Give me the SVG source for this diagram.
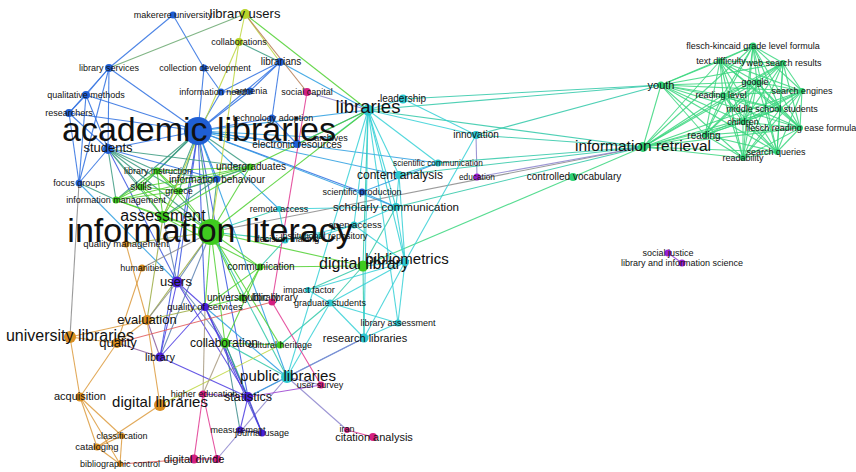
<svg xmlns="http://www.w3.org/2000/svg" width="856" height="472" viewBox="0 0 856 472">
<style>
text{font-family:"Liberation Sans",Arial,sans-serif;fill:#111;text-anchor:middle}
.f8{font-size:8.3px}.f9{font-size:9px}.f95{font-size:9.5px}.f10{font-size:10px}.f11{font-size:11px}.f115{font-size:11.5px}.f12{font-size:12px}.f125{font-size:12.5px}.f13{font-size:13px}.f15{font-size:15px}.f155{font-size:15.5px}.f16{font-size:16px}.f18{font-size:18.5px}.f34{font-size:34px}
#edges line{stroke-width:1.1;stroke-opacity:.85;fill:none}
.b{stroke:#2d6ee0}.t{stroke:#35d0d6}.g{stroke:#4fd030}.r{stroke:#3ad67e}.tg{stroke:#30c8a8}.bg{stroke:#3a9a80}.bt{stroke:#2a9ee0}.o{stroke:#dc9a3c}.i{stroke:#4a3ae0}.m{stroke:#e0358f}.y{stroke:#bcd63c}.gr{stroke:#8a8a8a}.pu{stroke:#8c84cc}.rd{stroke:#e05a5a}.br{stroke:#b57a50}.ol{stroke:#9aaa40}.bi{stroke:#3a55e0}.gi{stroke:#5a80b0}.tn{stroke:#a89a80}.vi{stroke:#9a40d0}.lg{stroke:#6aa870}.dt{stroke:#3a8a8a}.pb{stroke:#8a5a9a}
.nb{fill:#1f5fd4}.nt{fill:#2cc6cf}.ng{fill:#3fcb1f}.nr{fill:#2fd174}.no{fill:#d98d1f}.ni{fill:#4a1fd6}.nm{fill:#d42082}.nv{fill:#9a1fd2}.ny{fill:#b8d42a}
</style>
<rect width="856" height="472" fill="#fff"/>
<g id="edges">
<line class="b" x1="173" y1="15" x2="109" y2="68"/>
<line class="b" x1="173" y1="15" x2="204" y2="68"/>
<line class="b" x1="109" y1="68" x2="86" y2="95"/>
<line class="b" x1="109" y1="68" x2="69" y2="113"/>
<line class="b" x1="109" y1="68" x2="108" y2="149"/>
<line class="b" x1="109" y1="68" x2="198" y2="131"/>
<line class="b" x1="109" y1="68" x2="79" y2="183"/>
<line class="lg" x1="109" y1="68" x2="245" y2="14"/>
<line class="b" x1="86" y1="95" x2="69" y2="113"/>
<line class="b" x1="86" y1="95" x2="108" y2="149"/>
<line class="b" x1="86" y1="95" x2="79" y2="183"/>
<line class="b" x1="86" y1="95" x2="198" y2="131"/>
<line class="b" x1="69" y1="113" x2="108" y2="149"/>
<line class="b" x1="69" y1="113" x2="79" y2="183"/>
<line class="b" x1="69" y1="113" x2="198" y2="131"/>
<line class="b" x1="108" y1="149" x2="79" y2="183"/>
<line class="b" x1="108" y1="149" x2="198" y2="131"/>
<line class="b" x1="204" y1="68" x2="198" y2="131"/>
<line class="b" x1="204" y1="68" x2="221" y2="92"/>
<line class="b" x1="221" y1="92" x2="198" y2="131"/>
<line class="b" x1="221" y1="92" x2="250" y2="91"/>
<line class="b" x1="221" y1="92" x2="280" y2="62"/>
<line class="b" x1="250" y1="91" x2="280" y2="62"/>
<line class="b" x1="250" y1="91" x2="198" y2="131"/>
<line class="b" x1="280" y1="62" x2="198" y2="131"/>
<line class="bt" x1="280" y1="62" x2="368" y2="110"/>
<line class="b" x1="280" y1="62" x2="272" y2="118"/>
<line class="b" x1="272" y1="118" x2="198" y2="131"/>
<line class="b" x1="272" y1="118" x2="297" y2="144"/>
<line class="b" x1="297" y1="144" x2="198" y2="131"/>
<line class="bt" x1="297" y1="144" x2="368" y2="110"/>
<line class="bt" x1="331" y1="138" x2="198" y2="131"/>
<line class="t" x1="331" y1="138" x2="368" y2="110"/>
<line class="b" x1="198" y1="131" x2="217" y2="179"/>
<line class="bg" x1="198" y1="131" x2="250" y2="167"/>
<line class="bg" x1="198" y1="131" x2="157" y2="171"/>
<line class="bg" x1="198" y1="131" x2="141" y2="187"/>
<line class="bg" x1="198" y1="131" x2="179" y2="191"/>
<line class="bg" x1="198" y1="131" x2="116" y2="200"/>
<line class="bg" x1="198" y1="131" x2="163" y2="217"/>
<line class="bg" x1="198" y1="131" x2="211" y2="232"/>
<line class="bt" x1="198" y1="131" x2="279" y2="209"/>
<line class="b" x1="198" y1="131" x2="362" y2="192"/>
<line class="bt" x1="198" y1="131" x2="396" y2="207"/>
<line class="bt" x1="198" y1="131" x2="399" y2="175"/>
<line class="bt" x1="198" y1="131" x2="368" y2="110"/>
<line class="bi" x1="198" y1="131" x2="177" y2="282"/>
<line class="bi" x1="198" y1="131" x2="160" y2="357"/>
<line class="bi" x1="198" y1="131" x2="205" y2="307"/>
<line class="bt" x1="198" y1="131" x2="287" y2="377"/>
<line class="bt" x1="198" y1="131" x2="438" y2="163"/>
<line class="bi" x1="198" y1="131" x2="248" y2="397"/>
<line class="bg" x1="108" y1="149" x2="157" y2="171"/>
<line class="bg" x1="108" y1="149" x2="141" y2="187"/>
<line class="bg" x1="108" y1="149" x2="179" y2="191"/>
<line class="bg" x1="108" y1="149" x2="116" y2="200"/>
<line class="bg" x1="108" y1="149" x2="163" y2="217"/>
<line class="bg" x1="108" y1="149" x2="211" y2="232"/>
<line class="b" x1="108" y1="149" x2="217" y2="179"/>
<line class="bg" x1="108" y1="149" x2="250" y2="167"/>
<line class="bi" x1="108" y1="149" x2="177" y2="282"/>
<line class="bt" x1="79" y1="183" x2="177" y2="282"/>
<line class="gr" x1="79" y1="183" x2="70" y2="337"/>
<line class="bg" x1="79" y1="183" x2="116" y2="200"/>
<line class="g" x1="211" y1="232" x2="163" y2="217"/>
<line class="g" x1="211" y1="232" x2="157" y2="171"/>
<line class="g" x1="211" y1="232" x2="141" y2="187"/>
<line class="g" x1="211" y1="232" x2="179" y2="191"/>
<line class="g" x1="211" y1="232" x2="116" y2="200"/>
<line class="g" x1="211" y1="232" x2="250" y2="167"/>
<line class="bg" x1="211" y1="232" x2="217" y2="179"/>
<line class="y" x1="211" y1="232" x2="239" y2="42"/>
<line class="g" x1="211" y1="232" x2="260" y2="267"/>
<line class="g" x1="211" y1="232" x2="242" y2="298"/>
<line class="gi" x1="211" y1="232" x2="177" y2="282"/>
<line class="g" x1="211" y1="232" x2="205" y2="307"/>
<line class="g" x1="211" y1="232" x2="225" y2="343"/>
<line class="g" x1="211" y1="232" x2="363" y2="266"/>
<line class="g" x1="211" y1="232" x2="368" y2="110"/>
<line class="ol" x1="211" y1="232" x2="126" y2="244"/>
<line class="ol" x1="211" y1="232" x2="147" y2="320"/>
<line class="tg" x1="211" y1="232" x2="279" y2="209"/>
<line class="tg" x1="211" y1="232" x2="285" y2="240"/>
<line class="g" x1="211" y1="232" x2="280" y2="345"/>
<line class="tg" x1="211" y1="232" x2="287" y2="377"/>
<line class="gr" x1="211" y1="232" x2="142" y2="268"/>
<line class="gi" x1="211" y1="232" x2="160" y2="357"/>
<line class="gr" x1="211" y1="232" x2="643" y2="147"/>
<line class="g" x1="163" y1="217" x2="157" y2="171"/>
<line class="g" x1="163" y1="217" x2="141" y2="187"/>
<line class="g" x1="163" y1="217" x2="179" y2="191"/>
<line class="g" x1="163" y1="217" x2="116" y2="200"/>
<line class="g" x1="163" y1="217" x2="250" y2="167"/>
<line class="bg" x1="163" y1="217" x2="217" y2="179"/>
<line class="gi" x1="163" y1="217" x2="177" y2="282"/>
<line class="ol" x1="163" y1="217" x2="147" y2="320"/>
<line class="g" x1="163" y1="217" x2="260" y2="267"/>
<line class="g" x1="157" y1="171" x2="141" y2="187"/>
<line class="g" x1="157" y1="171" x2="179" y2="191"/>
<line class="g" x1="157" y1="171" x2="116" y2="200"/>
<line class="bg" x1="157" y1="171" x2="217" y2="179"/>
<line class="g" x1="157" y1="171" x2="250" y2="167"/>
<line class="g" x1="141" y1="187" x2="179" y2="191"/>
<line class="g" x1="141" y1="187" x2="116" y2="200"/>
<line class="g" x1="141" y1="187" x2="250" y2="167"/>
<line class="g" x1="179" y1="191" x2="116" y2="200"/>
<line class="g" x1="179" y1="191" x2="250" y2="167"/>
<line class="bg" x1="179" y1="191" x2="217" y2="179"/>
<line class="bg" x1="217" y1="179" x2="250" y2="167"/>
<line class="g" x1="116" y1="200" x2="250" y2="167"/>
<line class="g" x1="250" y1="167" x2="368" y2="110"/>
<line class="y" x1="239" y1="42" x2="245" y2="14"/>
<line class="bg" x1="239" y1="42" x2="280" y2="62"/>
<line class="y" x1="239" y1="42" x2="163" y2="217"/>
<line class="g" x1="245" y1="14" x2="368" y2="110"/>
<line class="y" x1="245" y1="14" x2="280" y2="62"/>
<line class="br" x1="245" y1="14" x2="307" y2="92"/>
<line class="g" x1="260" y1="267" x2="225" y2="343"/>
<line class="g" x1="260" y1="267" x2="363" y2="266"/>
<line class="g" x1="260" y1="267" x2="242" y2="298"/>
<line class="g" x1="260" y1="267" x2="205" y2="307"/>
<line class="tg" x1="260" y1="267" x2="285" y2="240"/>
<line class="tg" x1="225" y1="343" x2="248" y2="397"/>
<line class="dt" x1="225" y1="343" x2="240" y2="430"/>
<line class="dt" x1="225" y1="343" x2="262" y2="433"/>
<line class="gi" x1="225" y1="343" x2="205" y2="307"/>
<line class="gi" x1="225" y1="343" x2="177" y2="282"/>
<line class="g" x1="225" y1="343" x2="280" y2="345"/>
<line class="tg" x1="225" y1="343" x2="287" y2="377"/>
<line class="tg" x1="280" y1="345" x2="330" y2="303"/>
<line class="y" x1="160" y1="405" x2="280" y2="345"/>
<line class="g" x1="242" y1="298" x2="205" y2="307"/>
<line class="t" x1="363" y1="266" x2="405" y2="262"/>
<line class="tg" x1="363" y1="266" x2="396" y2="207"/>
<line class="tg" x1="363" y1="266" x2="368" y2="110"/>
<line class="r" x1="363" y1="266" x2="573" y2="177"/>
<line class="tg" x1="363" y1="266" x2="364" y2="338"/>
<line class="tg" x1="363" y1="266" x2="330" y2="303"/>
<line class="r" x1="573" y1="177" x2="643" y2="147"/>
<line class="t" x1="368" y1="110" x2="403" y2="99"/>
<line class="t" x1="368" y1="110" x2="476" y2="135"/>
<line class="t" x1="368" y1="110" x2="396" y2="207"/>
<line class="t" x1="368" y1="110" x2="399" y2="175"/>
<line class="t" x1="368" y1="110" x2="405" y2="262"/>
<line class="t" x1="368" y1="110" x2="364" y2="338"/>
<line class="t" x1="368" y1="110" x2="398" y2="323"/>
<line class="t" x1="368" y1="110" x2="287" y2="377"/>
<line class="t" x1="368" y1="110" x2="354" y2="225"/>
<line class="t" x1="368" y1="110" x2="438" y2="163"/>
<line class="pu" x1="368" y1="110" x2="307" y2="92"/>
<line class="tg" x1="368" y1="110" x2="661" y2="85"/>
<line class="tg" x1="368" y1="110" x2="643" y2="147"/>
<line class="t" x1="403" y1="99" x2="476" y2="135"/>
<line class="tg" x1="403" y1="99" x2="661" y2="85"/>
<line class="pu" x1="476" y1="135" x2="477" y2="177"/>
<line class="t" x1="476" y1="135" x2="405" y2="262"/>
<line class="tg" x1="476" y1="135" x2="643" y2="147"/>
<line class="tg" x1="476" y1="135" x2="661" y2="85"/>
<line class="t" x1="438" y1="163" x2="399" y2="175"/>
<line class="tg" x1="438" y1="163" x2="643" y2="147"/>
<line class="bt" x1="438" y1="163" x2="362" y2="192"/>
<line class="t" x1="399" y1="175" x2="396" y2="207"/>
<line class="t" x1="399" y1="175" x2="405" y2="262"/>
<line class="tg" x1="399" y1="175" x2="643" y2="147"/>
<line class="pu" x1="477" y1="177" x2="643" y2="147"/>
<line class="tg" x1="396" y1="207" x2="643" y2="147"/>
<line class="t" x1="396" y1="207" x2="354" y2="225"/>
<line class="t" x1="396" y1="207" x2="405" y2="262"/>
<line class="bt" x1="396" y1="207" x2="362" y2="192"/>
<line class="t" x1="396" y1="207" x2="279" y2="209"/>
<line class="t" x1="354" y1="225" x2="320" y2="236"/>
<line class="t" x1="354" y1="225" x2="285" y2="240"/>
<line class="t" x1="354" y1="225" x2="405" y2="262"/>
<line class="t" x1="279" y1="209" x2="285" y2="240"/>
<line class="t" x1="285" y1="240" x2="320" y2="236"/>
<line class="t" x1="405" y1="262" x2="364" y2="338"/>
<line class="t" x1="405" y1="262" x2="398" y2="323"/>
<line class="t" x1="405" y1="262" x2="330" y2="303"/>
<line class="t" x1="405" y1="262" x2="308" y2="290"/>
<line class="t" x1="308" y1="290" x2="330" y2="303"/>
<line class="tg" x1="308" y1="290" x2="363" y2="266"/>
<line class="t" x1="330" y1="303" x2="364" y2="338"/>
<line class="t" x1="330" y1="303" x2="398" y2="323"/>
<line class="t" x1="330" y1="303" x2="287" y2="377"/>
<line class="t" x1="398" y1="323" x2="364" y2="338"/>
<line class="bt" x1="364" y1="338" x2="287" y2="377"/>
<line class="pu" x1="364" y1="338" x2="248" y2="397"/>
<line class="pu" x1="287" y1="377" x2="321" y2="385"/>
<line class="bt" x1="287" y1="377" x2="248" y2="397"/>
<line class="bt" x1="287" y1="377" x2="205" y2="307"/>
<line class="pu" x1="287" y1="377" x2="347" y2="430"/>
<line class="pu" x1="287" y1="377" x2="217" y2="459"/>
<line class="i" x1="177" y1="282" x2="205" y2="307"/>
<line class="i" x1="177" y1="282" x2="160" y2="357"/>
<line class="i" x1="177" y1="282" x2="248" y2="397"/>
<line class="gr" x1="177" y1="282" x2="147" y2="320"/>
<line class="i" x1="205" y1="307" x2="160" y2="357"/>
<line class="tn" x1="205" y1="307" x2="203" y2="394"/>
<line class="i" x1="205" y1="307" x2="248" y2="397"/>
<line class="i" x1="205" y1="307" x2="262" y2="433"/>
<line class="ol" x1="205" y1="307" x2="147" y2="320"/>
<line class="i" x1="160" y1="357" x2="248" y2="397"/>
<line class="pb" x1="160" y1="357" x2="117" y2="343"/>
<line class="pb" x1="160" y1="357" x2="147" y2="320"/>
<line class="i" x1="248" y1="397" x2="240" y2="430"/>
<line class="i" x1="248" y1="397" x2="262" y2="433"/>
<line class="vi" x1="248" y1="397" x2="203" y2="394"/>
<line class="vi" x1="248" y1="397" x2="321" y2="385"/>
<line class="i" x1="240" y1="430" x2="262" y2="433"/>
<line class="m" x1="203" y1="394" x2="194" y2="459"/>
<line class="m" x1="203" y1="394" x2="217" y2="459"/>
<line class="tn" x1="203" y1="394" x2="225" y2="343"/>
<line class="m" x1="194" y1="459" x2="217" y2="459"/>
<line class="rd" x1="120" y1="464" x2="194" y2="459"/>
<line class="m" x1="347" y1="430" x2="373" y2="437"/>
<line class="m" x1="272" y1="302" x2="321" y2="385"/>
<line class="m" x1="272" y1="302" x2="307" y2="92"/>
<line class="rd" x1="272" y1="302" x2="117" y2="343"/>
<line class="o" x1="70" y1="337" x2="147" y2="320"/>
<line class="o" x1="70" y1="337" x2="117" y2="343"/>
<line class="o" x1="70" y1="337" x2="80" y2="397"/>
<line class="o" x1="147" y1="320" x2="117" y2="343"/>
<line class="o" x1="147" y1="320" x2="126" y2="244"/>
<line class="o" x1="147" y1="320" x2="160" y2="405"/>
<line class="o" x1="142" y1="268" x2="117" y2="343"/>
<line class="o" x1="117" y1="343" x2="80" y2="397"/>
<line class="o" x1="80" y1="397" x2="97" y2="447"/>
<line class="o" x1="80" y1="397" x2="122" y2="436"/>
<line class="o" x1="80" y1="397" x2="120" y2="464"/>
<line class="o" x1="160" y1="405" x2="97" y2="447"/>
<line class="o" x1="97" y1="447" x2="122" y2="436"/>
<line class="o" x1="97" y1="447" x2="120" y2="464"/>
<line class="o" x1="122" y1="436" x2="120" y2="464"/>
<line class="vi" x1="668" y1="253" x2="682" y2="263"/>
<line class="r" x1="753" y1="46" x2="720" y2="61"/><line class="r" x1="753" y1="46" x2="783" y2="63"/><line class="r" x1="753" y1="46" x2="757" y2="82"/><line class="r" x1="753" y1="46" x2="802" y2="91"/><line class="r" x1="753" y1="46" x2="723" y2="95"/><line class="r" x1="753" y1="46" x2="780" y2="109"/><line class="r" x1="753" y1="46" x2="743" y2="122"/><line class="r" x1="753" y1="46" x2="800" y2="128"/><line class="r" x1="753" y1="46" x2="705" y2="135"/><line class="r" x1="753" y1="46" x2="777" y2="152"/><line class="r" x1="753" y1="46" x2="743" y2="158"/>
<line class="r" x1="720" y1="61" x2="783" y2="63"/><line class="r" x1="720" y1="61" x2="757" y2="82"/><line class="r" x1="720" y1="61" x2="802" y2="91"/><line class="r" x1="720" y1="61" x2="723" y2="95"/><line class="r" x1="720" y1="61" x2="780" y2="109"/><line class="r" x1="720" y1="61" x2="743" y2="122"/><line class="r" x1="720" y1="61" x2="800" y2="128"/><line class="r" x1="720" y1="61" x2="705" y2="135"/><line class="r" x1="720" y1="61" x2="777" y2="152"/><line class="r" x1="720" y1="61" x2="743" y2="158"/>
<line class="r" x1="783" y1="63" x2="757" y2="82"/><line class="r" x1="783" y1="63" x2="802" y2="91"/><line class="r" x1="783" y1="63" x2="723" y2="95"/><line class="r" x1="783" y1="63" x2="780" y2="109"/><line class="r" x1="783" y1="63" x2="743" y2="122"/><line class="r" x1="783" y1="63" x2="800" y2="128"/><line class="r" x1="783" y1="63" x2="705" y2="135"/><line class="r" x1="783" y1="63" x2="777" y2="152"/><line class="r" x1="783" y1="63" x2="743" y2="158"/>
<line class="r" x1="757" y1="82" x2="802" y2="91"/><line class="r" x1="757" y1="82" x2="723" y2="95"/><line class="r" x1="757" y1="82" x2="780" y2="109"/><line class="r" x1="757" y1="82" x2="743" y2="122"/><line class="r" x1="757" y1="82" x2="800" y2="128"/><line class="r" x1="757" y1="82" x2="705" y2="135"/><line class="r" x1="757" y1="82" x2="777" y2="152"/><line class="r" x1="757" y1="82" x2="743" y2="158"/>
<line class="r" x1="802" y1="91" x2="723" y2="95"/><line class="r" x1="802" y1="91" x2="780" y2="109"/><line class="r" x1="802" y1="91" x2="743" y2="122"/><line class="r" x1="802" y1="91" x2="800" y2="128"/><line class="r" x1="802" y1="91" x2="705" y2="135"/><line class="r" x1="802" y1="91" x2="777" y2="152"/><line class="r" x1="802" y1="91" x2="743" y2="158"/>
<line class="r" x1="723" y1="95" x2="780" y2="109"/><line class="r" x1="723" y1="95" x2="743" y2="122"/><line class="r" x1="723" y1="95" x2="800" y2="128"/><line class="r" x1="723" y1="95" x2="705" y2="135"/><line class="r" x1="723" y1="95" x2="777" y2="152"/><line class="r" x1="723" y1="95" x2="743" y2="158"/>
<line class="r" x1="780" y1="109" x2="743" y2="122"/><line class="r" x1="780" y1="109" x2="800" y2="128"/><line class="r" x1="780" y1="109" x2="705" y2="135"/><line class="r" x1="780" y1="109" x2="777" y2="152"/><line class="r" x1="780" y1="109" x2="743" y2="158"/>
<line class="r" x1="743" y1="122" x2="800" y2="128"/><line class="r" x1="743" y1="122" x2="705" y2="135"/><line class="r" x1="743" y1="122" x2="777" y2="152"/><line class="r" x1="743" y1="122" x2="743" y2="158"/>
<line class="r" x1="800" y1="128" x2="705" y2="135"/><line class="r" x1="800" y1="128" x2="777" y2="152"/><line class="r" x1="800" y1="128" x2="743" y2="158"/>
<line class="r" x1="705" y1="135" x2="777" y2="152"/><line class="r" x1="705" y1="135" x2="743" y2="158"/><line class="r" x1="777" y1="152" x2="743" y2="158"/>
<line class="r" x1="661" y1="85" x2="753" y2="46"/><line class="r" x1="661" y1="85" x2="720" y2="61"/><line class="r" x1="661" y1="85" x2="783" y2="63"/><line class="r" x1="661" y1="85" x2="757" y2="82"/><line class="r" x1="661" y1="85" x2="802" y2="91"/><line class="r" x1="661" y1="85" x2="723" y2="95"/><line class="r" x1="661" y1="85" x2="780" y2="109"/><line class="r" x1="661" y1="85" x2="743" y2="122"/><line class="r" x1="661" y1="85" x2="800" y2="128"/><line class="r" x1="661" y1="85" x2="705" y2="135"/><line class="r" x1="661" y1="85" x2="777" y2="152"/><line class="r" x1="661" y1="85" x2="743" y2="158"/>
<line class="r" x1="643" y1="147" x2="753" y2="46"/><line class="r" x1="643" y1="147" x2="720" y2="61"/><line class="r" x1="643" y1="147" x2="783" y2="63"/><line class="r" x1="643" y1="147" x2="757" y2="82"/><line class="r" x1="643" y1="147" x2="802" y2="91"/><line class="r" x1="643" y1="147" x2="723" y2="95"/><line class="r" x1="643" y1="147" x2="780" y2="109"/><line class="r" x1="643" y1="147" x2="743" y2="122"/><line class="r" x1="643" y1="147" x2="800" y2="128"/><line class="r" x1="643" y1="147" x2="705" y2="135"/><line class="r" x1="643" y1="147" x2="777" y2="152"/><line class="r" x1="643" y1="147" x2="743" y2="158"/>
<line class="r" x1="661" y1="85" x2="643" y2="147"/>
</g>
<g id="n-makerere-university"><circle class="nb" cx="173" cy="15" r="3.5"/><text class="f9" x="173" y="18">makerere university</text></g>
<g id="n-library-services"><circle class="nb" cx="109" cy="68" r="4"/><text class="f9" x="109" y="71">library services</text></g>
<g id="n-collection-development"><circle class="nb" cx="204" cy="68" r="3.5"/><text class="f9" x="205" y="71">collection development</text></g>
<g id="n-qualitative-methods"><circle class="nb" cx="86" cy="95" r="4"/><text class="f9" x="86" y="98">qualitative methods</text></g>
<g id="n-researchers"><circle class="nb" cx="69" cy="113" r="4"/><text class="f9" x="69" y="116">researchers</text></g>
<g id="n-collaborations"><circle class="ny" cx="239" cy="42" r="4"/><text class="f9" x="239" y="45">collaborations</text></g>
<g id="n-librarians"><circle class="nb" cx="280" cy="62" r="4"/><text class="f10" x="281" y="65">librarians</text></g>
<g id="n-information-needs"><circle class="nb" cx="221" cy="92" r="3.5"/><text class="f9" x="215" y="95">information needs</text></g>
<g id="n-armenia"><circle class="nb" cx="250" cy="91" r="3.5"/><text class="f9" x="251" y="94">armenia</text></g>
<g id="n-social-capital"><circle class="nm" cx="307" cy="92" r="4"/><text class="f9" x="307" y="95">social capital</text></g>
<g id="n-leadership"><circle class="nt" cx="403" cy="99" r="4.5"/><text class="f10" x="403" y="102">leadership</text></g>
<g id="n-technology-adoption"><circle class="nb" cx="272" cy="118" r="3.5"/><text class="f9" x="273" y="121">technology adoption</text></g>
<g id="n-archives"><circle class="nt" cx="331" cy="138" r="3"/><text class="f9" x="331" y="141">archives</text></g>
<g id="n-electronic-resources"><circle class="nb" cx="297" cy="144" r="4"/><text class="f10" x="297" y="148">electronic resources</text></g>
<g id="n-innovation"><circle class="nt" cx="476" cy="135" r="4"/><text class="f10" x="476" y="138">innovation</text></g>
<g id="n-scientific-communication"><circle class="nt" cx="438" cy="163" r="3.5"/><text class="f8" x="438" y="166">scientific communication</text></g>
<g id="n-education"><circle class="nv" cx="477" cy="177" r="3.5"/><text class="f8" x="477" y="180">education</text></g>
<g id="n-controlled-vocabulary"><circle class="nr" cx="573" cy="177" r="4"/><text class="f10" x="574" y="180">controlled vocabulary</text></g>
<g id="n-content-analysis"><circle class="nt" cx="399" cy="175" r="4"/><text class="f12" x="400" y="179">content analysis</text></g>
<g id="n-youth"><circle class="nr" cx="661" cy="85" r="3.5"/><text class="f11" x="661" y="89">youth</text></g>
<g id="n-flesch-kincaid"><circle class="nr" cx="753" cy="46" r="3.5"/><text class="f9" x="753" y="49">flesch-kincaid grade level formula</text></g>
<g id="n-text-difficulty"><circle class="nr" cx="720" cy="61" r="3"/><text class="f9" x="721" y="64">text difficulty</text></g>
<g id="n-web-search-results"><circle class="nr" cx="783" cy="63" r="3"/><text class="f9" x="784" y="66">web search results</text></g>
<g id="n-google"><circle class="nr" cx="757" cy="82" r="3"/><text class="f9" x="755" y="85">google</text></g>
<g id="n-search-engines"><circle class="nr" cx="802" cy="91" r="3"/><text class="f9" x="802" y="94">search engines</text></g>
<g id="n-reading-level"><circle class="nr" cx="723" cy="95" r="3"/><text class="f9" x="721" y="98">reading level</text></g>
<g id="n-middle-school-students"><circle class="nr" cx="780" cy="109" r="3"/><text class="f9" x="772" y="112">middle school students</text></g>
<g id="n-children"><circle class="nr" cx="743" cy="122" r="3"/><text class="f9" x="743" y="125">children</text></g>
<g id="n-flesch-reading-ease"><circle class="nr" cx="800" cy="128" r="3"/><text class="f9" x="801" y="131">flesch reading ease formula</text></g>
<g id="n-reading"><circle class="nr" cx="705" cy="135" r="3"/><text class="f10" x="704" y="139">reading</text></g>
<g id="n-search-queries"><circle class="nr" cx="777" cy="152" r="3"/><text class="f9" x="776" y="155">search queries</text></g>
<g id="n-readability"><circle class="nr" cx="743" cy="158" r="3"/><text class="f9" x="743" y="161">readability</text></g>
<g id="n-social-justice"><circle class="nv" cx="668" cy="253" r="3.5"/><text class="f9" x="668" y="256">social justice</text></g>
<g id="n-library-and-information-science"><circle class="nv" cx="682" cy="263" r="3.5"/><text class="f9" x="682" y="266">library and information science</text></g>
<g id="n-library-instruction"><circle class="ng" cx="157" cy="171" r="3.5"/><text class="f9" x="158" y="174">library instruction</text></g>
<g id="n-skills"><circle class="ng" cx="141" cy="187" r="3.5"/><text class="f10" x="141" y="190">skills</text></g>
<g id="n-greece"><circle class="ng" cx="179" cy="191" r="3.5"/><text class="f9" x="179" y="194">greece</text></g>
<g id="n-information-behaviour"><circle class="nb" cx="217" cy="179" r="3.5"/><text class="f10" x="217" y="183">information behaviour</text></g>
<g id="n-undergraduates"><circle class="ng" cx="250" cy="167" r="3.5"/><text class="f10" x="251" y="170">undergraduates</text></g>
<g id="n-information-management"><circle class="ng" cx="116" cy="200" r="3.5"/><text class="f9" x="116" y="203">information management</text></g>
<g id="n-focus-groups"><circle class="nb" cx="79" cy="183" r="3.5"/><text class="f9" x="79" y="186">focus groups</text></g>
<g id="n-quality-management"><circle class="no" cx="126" cy="244" r="3.5"/><text class="f95" x="126" y="247">quality management</text></g>
<g id="n-humanities"><circle class="no" cx="142" cy="268" r="3.5"/><text class="f9" x="142" y="271">humanities</text></g>
<g id="n-remote-access"><circle class="nt" cx="279" cy="209" r="3"/><text class="f9" x="279" y="212">remote access</text></g>
<g id="n-scientific-production"><circle class="nb" cx="362" cy="192" r="3.5"/><text class="f9" x="362" y="195">scientific production</text></g>
<g id="n-scholarly-communication"><circle class="nt" cx="396" cy="207" r="4"/><text class="f115" x="396" y="211">scholarly communication</text></g>
<g id="n-open-access"><circle class="nt" cx="354" cy="225" r="3.5"/><text class="f95" x="355" y="228">open access</text></g>
<g id="n-decision-making"><circle class="nt" cx="285" cy="240" r="3.5"/><text class="f9" x="287" y="242">decision making</text></g>
<g id="n-institutional-repository"><circle class="nt" cx="320" cy="236" r="3"/><text class="f9" x="324" y="239">institutional repository</text></g>
<g id="n-communication"><circle class="ng" cx="260" cy="267" r="3.5"/><text class="f10" x="261" y="270">communication</text></g>
<g id="n-impact-factor"><circle class="nt" cx="308" cy="290" r="3"/><text class="f9" x="309" y="293">impact factor</text></g>
<g id="n-graduate-students"><circle class="nt" cx="330" cy="303" r="3.5"/><text class="f9" x="330" y="306">graduate students</text></g>
<g id="n-university-library"><circle class="ng" cx="242" cy="298" r="3.5"/><text class="f10" x="243" y="301">university library</text></g>
<g id="n-public-library"><circle class="nm" cx="272" cy="302" r="3.5"/><text class="f10" x="270" y="301">public library</text></g>
<g id="n-quality-of-services"><circle class="ni" cx="205" cy="307" r="4"/><text class="f95" x="205" y="310">quality of services</text></g>
<g id="n-library-assessment"><circle class="nt" cx="398" cy="323" r="3.5"/><text class="f9" x="398" y="326">library assessment</text></g>
<g id="n-research-libraries"><circle class="nt" cx="364" cy="338" r="4.5"/><text class="f11" x="365" y="342">research libraries</text></g>
<g id="n-cultural-heritage"><circle class="ng" cx="280" cy="345" r="3.5"/><text class="f9" x="280" y="348">cultural heritage</text></g>
<g id="n-collaboration"><circle class="ng" cx="225" cy="343" r="5"/><text class="f12" x="224" y="347">collaboration</text></g>
<g id="n-user-survey"><circle class="nm" cx="321" cy="385" r="3.5"/><text class="f9" x="320" y="388">user survey</text></g>
<g id="n-higher-education"><circle class="nm" cx="203" cy="394" r="3.5"/><text class="f9" x="204" y="397">higher education</text></g>
<g id="n-statistics"><circle class="ni" cx="248" cy="397" r="5"/><text class="f125" x="248" y="401">statistics</text></g>
<g id="n-measurement"><circle class="ni" cx="240" cy="430" r="3.5"/><text class="f9" x="238" y="433">measurement</text></g>
<g id="n-journal-usage"><circle class="ni" cx="262" cy="433" r="3.5"/><text class="f9" x="262" y="436">journal usage</text></g>
<g id="n-iran"><circle class="nm" cx="347" cy="430" r="3"/><text class="f9" x="347" y="432">iran</text></g>
<g id="n-citation-analysis"><circle class="nm" cx="373" cy="437" r="4"/><text class="f11" x="374" y="441">citation analysis</text></g>
<g id="n-digital-divide"><circle class="nm" cx="194" cy="459" r="4.5"/><circle class="nm" cx="217" cy="459" r="4"/><text class="f11" x="194" y="463">digital divide</text></g>
<g id="n-classification"><circle class="no" cx="122" cy="436" r="3"/><text class="f9" x="122" y="439">classification</text></g>
<g id="n-cataloging"><circle class="no" cx="97" cy="447" r="3.5"/><text class="f95" x="97" y="450">cataloging</text></g>
<g id="n-bibliographic-control"><circle class="no" cx="120" cy="464" r="3"/><text class="f9" x="120" y="467">bibliographic control</text></g>
<g id="n-acquisition"><circle class="no" cx="80" cy="397" r="4.5"/><text class="f11" x="80" y="400">acquisition</text></g>
<g id="n-library"><circle class="ni" cx="160" cy="357" r="4.5"/><text class="f11" x="160" y="361">library</text></g>
<g id="n-quality"><circle class="no" cx="117" cy="343" r="5"/><text class="f13" x="118" y="347">quality</text></g>
<g id="n-evaluation"><circle class="no" cx="147" cy="320" r="5"/><text class="f13" x="147" y="324">evaluation</text></g>
<g id="n-users"><circle class="ni" cx="177" cy="282" r="5.5"/><text class="f13" x="176" y="286">users</text></g>
<g id="n-university-libraries"><circle class="no" cx="70" cy="337" r="6"/><text class="f16" x="70" y="341">university libraries</text></g>
<g id="n-digital-libraries"><circle class="no" cx="160" cy="405" r="6"/><text class="f15" x="160" y="407">digital libraries</text></g>
<g id="n-public-libraries"><circle class="nt" cx="287" cy="377" r="6"/><text class="f15" x="288" y="381">public libraries</text></g>
<g id="n-digital-library"><circle class="ng" cx="363" cy="266" r="5.5"/><text class="f16" x="364" y="269">digital library</text></g>
<g id="n-bibliometrics"><circle class="nt" cx="405" cy="262" r="4"/><text class="f15" x="407" y="264">bibliometrics</text></g>
<g id="n-information-retrieval"><circle class="nr" cx="643" cy="147" r="5"/><text class="f155" x="643" y="151">information retrieval</text></g>
<g id="n-library-users"><circle class="ny" cx="245" cy="14" r="5"/><text class="f13" x="245" y="18">library users</text></g>
<g id="n-libraries"><circle class="nt" cx="368" cy="110" r="5.5"/><text class="f18" x="368" y="113">libraries</text></g>
<g id="n-students"><circle class="nb" cx="108" cy="149" r="5"/><text class="f13" x="108" y="152">students</text></g>
<g id="n-assessment"><circle class="ng" cx="163" cy="217" r="6"/><text class="f16" x="163" y="221">assessment</text></g>
<g id="n-academic-libraries"><circle class="nb" cx="198" cy="131" r="14"/><text class="f34" x="199" y="141">academic libraries</text></g>
<g id="n-information-literacy"><circle class="ng" cx="211" cy="232" r="13"/><text class="f34" x="210" y="242">information literacy</text></g>
</svg>
